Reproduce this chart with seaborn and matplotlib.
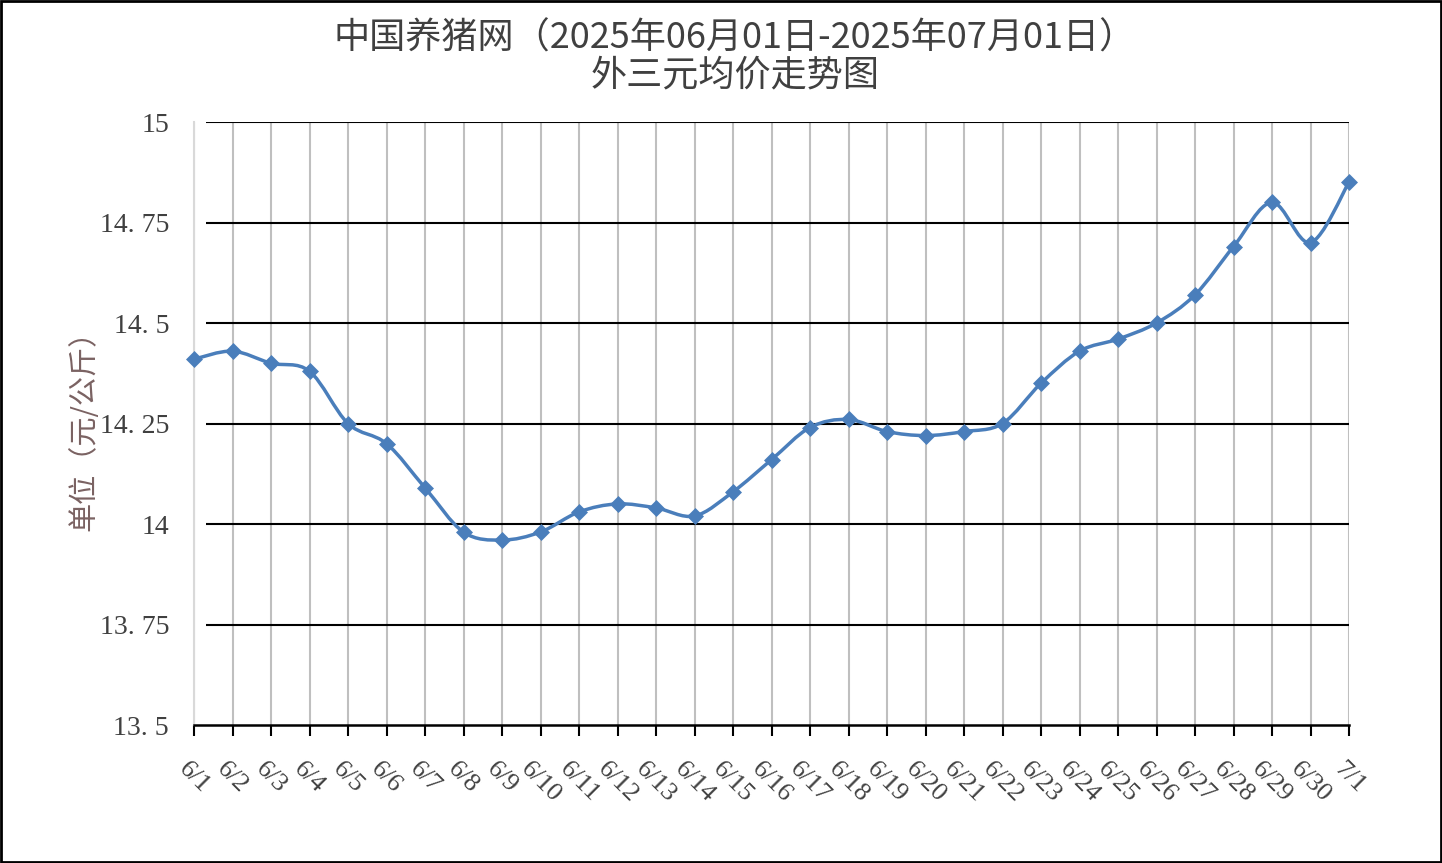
import numpy as np
import pandas as pd
import matplotlib
matplotlib.use("Agg")
import matplotlib.pyplot as plt
import seaborn as sns
from matplotlib.path import Path
from matplotlib.patches import PathPatch, Rectangle

dates = ["6/1", "6/2", "6/3", "6/4", "6/5", "6/6", "6/7", "6/8", "6/9", "6/10",
         "6/11", "6/12", "6/13", "6/14", "6/15", "6/16", "6/17", "6/18", "6/19", "6/20",
         "6/21", "6/22", "6/23", "6/24", "6/25", "6/26", "6/27", "6/28", "6/29", "6/30", "7/1"]
prices = [14.41, 14.43, 14.40, 14.38, 14.25, 14.20, 14.09, 13.98, 13.96, 13.98,
          14.03, 14.05, 14.04, 14.02, 14.08, 14.16, 14.24, 14.26, 14.23, 14.22,
          14.23, 14.25, 14.35, 14.43, 14.46, 14.50, 14.57, 14.69, 14.80, 14.70, 14.85]
y_ticks = [13.5, 13.75, 14.0, 14.25, 14.5, 14.75, 15.0]
y_tick_labels = ["13. 5", "13. 75", "14", "14. 25", "14. 5", "14. 75", "15"]
title_text = "中国养猪网（2025年06月01日-2025年07月01日）\n外三元均价走势图"
y_label = "单位（元/公斤）"

df = pd.DataFrame({"idx": np.arange(len(dates)), "date": dates, "price": prices})

sns.set_style("white")
plt.rcParams['font.family'] = ['Liberation Serif', 'Noto Sans CJK SC', 'DejaVu Sans']

W, H = 1442, 863
fig = plt.figure(figsize=(W / 100, H / 100), dpi=100)
ax = fig.add_axes([194 / W, 1 - 725 / H, (1349 - 194) / W, (725 - 122) / H])

line_color = "#4a7ebb"
text_color = "#404040"

# smoothed line (Catmull-Rom style Bezier through data points)
x = df["idx"].to_numpy(dtype=float)
y = df["price"].to_numpy(dtype=float)
pts = np.column_stack([x, y])
verts = [pts[0]]
codes = [Path.MOVETO]
n = len(pts)
for i in range(n - 1):
    p0 = pts[i - 1] if i > 0 else pts[i]
    p1 = pts[i]
    p2 = pts[i + 1]
    p3 = pts[i + 2] if i + 2 < n else pts[i + 1]
    c1 = p1 + (p2 - p0) / 6.0
    c2 = p2 - (p3 - p1) / 6.0
    verts += [c1, c2, p2]
    codes += [Path.CURVE4] * 3
ax.add_patch(PathPatch(Path(verts, codes), facecolor="none", edgecolor=line_color,
                       lw=2.5, zorder=4, capstyle="round", joinstyle="round",
                       clip_on=False))

sns.scatterplot(data=df, x="idx", y="price", marker="D", s=75, color=line_color,
                edgecolor=line_color, linewidth=0, ax=ax, zorder=5, legend=False,
                clip_on=False)

ax.set_xlim(0, len(dates) - 1)
ax.set_ylim(13.5, 15.0)

# vertical gray gridlines at each category
for i in range(len(dates)):
    ax.axvline(i, color="#bfbfbf", lw=1.5, zorder=1)
# horizontal black gridlines
for t in y_ticks[1:]:
    ax.hlines(t, 0.3, len(dates) - 1, color="black", lw=1.5, zorder=2)

for side in ["top", "right"]:
    ax.spines[side].set_visible(False)
ax.spines["left"].set_color("#d9d9d9")
ax.spines["left"].set_linewidth(1.5)
ax.spines["bottom"].set_color("black")
ax.spines["bottom"].set_linewidth(1.8)
ax.spines["bottom"].set_zorder(3)

ax.set_yticks(y_ticks)
ax.set_yticklabels(y_tick_labels, fontsize=20, color=text_color)
ax.set_xticks(df["idx"])
ax.set_xticklabels(dates, fontsize=19, color=text_color, rotation=-45,
                   ha="center", va="top")
ax.tick_params(axis="y", direction="in", length=12, width=1.5, color="#d9d9d9", pad=18)
ax.tick_params(axis="x", direction="out", length=8, width=1.5, color="black", pad=16,
               bottom=True)
ax.set_xlabel("")
ax.set_ylabel(y_label, fontsize=21, color="#7a6262",
              family=['Noto Sans CJK SC', 'DejaVu Sans'], labelpad=0)

fig.text(0.5095, 1 - 57 / H, title_text, ha="center", va="center", fontsize=26,
         color=text_color, linespacing=1.05,
         family=['Noto Sans CJK SC', 'DejaVu Sans'])

fig.patches.append(Rectangle((0.001, 0.001), 0.998, 0.998, transform=fig.transFigure,
                             fill=False, edgecolor="black", lw=2))

fig.savefig("out.png", dpi=100)
